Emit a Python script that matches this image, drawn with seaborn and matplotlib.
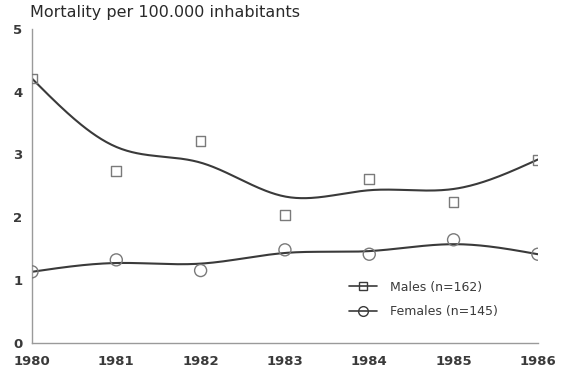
import numpy as np
import pandas as pd
import matplotlib
matplotlib.use("Agg")
import matplotlib.pyplot as plt
import seaborn as sns
from matplotlib.lines import Line2D

# Observed mortality per 100.000 inhabitants
years = [1980, 1981, 1982, 1983, 1984, 1985, 1986]
males = [4.21, 2.74, 3.21, 2.04, 2.61, 2.24, 2.91]
females = [1.13, 1.32, 1.15, 1.48, 1.41, 1.64, 1.41]

# Smoothed trend values at each year
males_trend = [4.21, 3.12, 2.87, 2.33, 2.43, 2.45, 2.92]
females_trend = [1.13, 1.27, 1.26, 1.43, 1.46, 1.57, 1.41]

labels = ["Males (n=162)", "Females (n=145)"]
y_ticks = [0, 1, 2, 3, 4, 5]


def natural_spline(x, y, xs):
    x = np.asarray(x, float)
    y = np.asarray(y, float)
    n = len(x)
    h = np.diff(x)
    A = np.zeros((n, n))
    r = np.zeros(n)
    A[0, 0] = A[-1, -1] = 1
    for i in range(1, n - 1):
        A[i, i - 1] = h[i - 1]
        A[i, i] = 2 * (h[i - 1] + h[i])
        A[i, i + 1] = h[i]
        r[i] = 3 * ((y[i + 1] - y[i]) / h[i] - (y[i] - y[i - 1]) / h[i - 1])
    c = np.linalg.solve(A, r)
    b = np.zeros(n - 1)
    d = np.zeros(n - 1)
    for i in range(n - 1):
        b[i] = (y[i + 1] - y[i]) / h[i] - h[i] * (2 * c[i] + c[i + 1]) / 3
        d[i] = (c[i + 1] - c[i]) / (3 * h[i])
    idx = np.clip(np.searchsorted(x, xs) - 1, 0, n - 2)
    dx = xs - x[idx]
    return y[idx] + b[idx] * dx + c[idx] * dx ** 2 + d[idx] * dx ** 3


sns.set_style("white")
plt.rcParams["font.family"] = ["DejaVu Sans"]

fig = plt.figure(figsize=(5.68, 3.74), dpi=100)
ax = fig.add_axes([0.0563, 0.0837, 0.8907, 0.8388])

xs = np.linspace(years[0], years[-1], 300)
curves = pd.DataFrame({
    "year": np.concatenate([xs, xs]),
    "rate": np.concatenate([natural_spline(years, males_trend, xs),
                            natural_spline(years, females_trend, xs)]),
    "sex": [labels[0]] * len(xs) + [labels[1]] * len(xs),
})
sns.lineplot(data=curves, x="year", y="rate", hue="sex",
             palette=["#3a3a3a", "#3a3a3a"], linewidth=1.5,
             legend=False, ax=ax, zorder=2)

pts = pd.DataFrame({"year": years, "males": males, "females": females})
sns.scatterplot(data=pts, x="year", y="males", marker="s", s=48,
                facecolor="none", edgecolor="#7a7a7a", linewidth=1.0,
                ax=ax, zorder=3)
sns.scatterplot(data=pts, x="year", y="females", marker="o", s=75,
                facecolor="none", edgecolor="#7a7a7a", linewidth=1.0,
                ax=ax, zorder=3)

ax.set_xlim(1980, 1986)
ax.set_ylim(0, 5)
ax.set_xticks(years)
ax.set_yticks(y_ticks)
ax.set_xlabel("")
ax.set_ylabel("")
for s in ["top", "right"]:
    ax.spines[s].set_visible(False)
for s in ["left", "bottom"]:
    ax.spines[s].set_color("#9a9a9a")
    ax.spines[s].set_linewidth(1.0)
ax.tick_params(axis="both", direction="out", length=4, width=1.0,
               color="#9a9a9a", labelcolor="#3a3a3a", labelsize=9.5, pad=3)
ax.tick_params(axis="x", pad=5)
for t in ax.get_xticklabels() + ax.get_yticklabels():
    t.set_fontweight("bold")

fig.text(0.053, 0.955, "Mortality per 100.000 inhabitants", fontsize=11.5,
         color="#2a2a2a", va="baseline", ha="left")

handles = [
    Line2D([], [], color="#3a3a3a", lw=1.2, marker="s", markersize=6,
           markerfacecolor="none", markeredgecolor="#3a3a3a"),
    Line2D([], [], color="#3a3a3a", lw=1.2, marker="o", markersize=7,
           markerfacecolor="none", markeredgecolor="#3a3a3a"),
]
leg = ax.legend(handles, labels, frameon=False, loc="upper left",
                bbox_to_anchor=(0.595, 0.28), bbox_transform=fig.transFigure,
                handlelength=2.2, fontsize=9, labelspacing=0.95,
                handletextpad=1.1)
for t in leg.get_texts():
    t.set_color("#3a3a3a")

fig.savefig("out.png", dpi=100)
